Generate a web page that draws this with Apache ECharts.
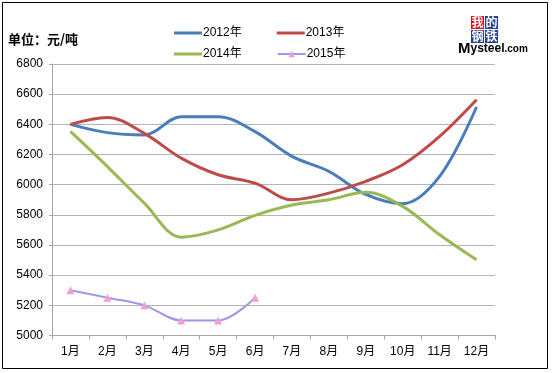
<!DOCTYPE html>
<html><head><meta charset="utf-8">
<script src="https://cdn.jsdelivr.net/npm/echarts@6/dist/echarts.min.js"></script>
<style>html,body{margin:0;padding:0;background:#fff}#c{width:555px;height:373px}</style>
</head><body><div id="c"></div>
<script>
var months = ['1月','2月','3月','4月','5月','6月','7月','8月','9月','10月','11月','12月'];
var s2012 = [6400, 6345, 6330, 6450, 6450, 6352, 6188, 6088, 5935, 5874, 6055, 6515];
var s2013 = [6400, 6446, 6340, 6176, 6066, 6010, 5900, 5944, 6022, 6132, 6320, 6563];
var s2014 = [6353, 6120, 5878, 5652, 5700, 5796, 5865, 5900, 5949, 5856, 5668, 5502];
var s2015 = [5300, 5250, 5200, 5100, 5100, 5250];
var names = ['2012年','2013年','2014年','2015年'];
var yTicks = {min: 5000, max: 6800, interval: 200};

var chart = echarts.init(document.getElementById('c'), null, {renderer: 'canvas'});
var font = '"Liberation Sans","Noto Sans CJK SC",sans-serif';
function lineSeries(name, data, color) {
  return {name: name, type: 'line', data: data, smooth: 0.35, symbol: 'none',
    lineStyle: {color: color, width: 3}, itemStyle: {color: color}};
}
var barIcon = 'path://M0,0h0.01v0.01h-0.01zM0,2.5h28v3h-28zM27.99,7.99h0.01v0.01h-0.01z';
var legendText = {fontSize: 12, color: '#000', fontFamily: font, padding: [0,0,0,-4]};
chart.setOption({
  animation: false,
  textStyle: {fontFamily: font},
  grid: {left: 52, right: 60, top: 64, bottom: 37.5},
  legend: [
    {top: 22, left: 169, itemWidth: 28, itemHeight: 8, itemGap: 35,
     textStyle: legendText, data: [{name: names[0], icon: barIcon}, {name: names[1], icon: barIcon}]},
    {top: 43, left: 169, itemWidth: 28, itemHeight: 8, itemGap: 35,
     textStyle: legendText, data: [{name: names[2], icon: barIcon}, names[3]]}
  ],
  xAxis: {type: 'category', data: months, boundaryGap: true,
    axisLine: {lineStyle: {color: '#a6a6a6', width: 1}},
    axisTick: {show: true, length: 4, lineStyle: {color: '#a6a6a6'}},
    axisLabel: {color: '#000', fontSize: 12, margin: 10}},
  yAxis: {type: 'value', min: yTicks.min, max: yTicks.max, interval: yTicks.interval,
    axisLine: {show: true, lineStyle: {color: '#a6a6a6', width: 1}},
    axisTick: {show: true, length: 3, lineStyle: {color: '#a6a6a6'}},
    axisLabel: {color: '#000', fontSize: 12, margin: 9, formatter: function (v) { return String(v); }},
    splitLine: {lineStyle: {color: '#b4b4b4', width: 1}}},
  series: [
    lineSeries(names[0], s2012, '#4a7ebb'),
    lineSeries(names[1], s2013, '#be4b48'),
    lineSeries(names[2], s2014, '#98b954'),
    {name: names[3], type: 'line', data: s2015, smooth: 0.35, symbol: 'triangle', symbolSize: 8,
     lineStyle: {color: '#9a9ae6', width: 2}, itemStyle: {color: '#f29fd6'}}
  ],
  graphic: [
    {type: 'rect', shape: {x: 2.5, y: 2.5, width: 545, height: 366}, style: {fill: 'none', stroke: '#000', lineWidth: 1}, silent: true},
    {type: 'text', left: 8, top: 33, style: {text: '单位：元/吨', font: 'bold 13px "Noto Sans CJK SC",sans-serif', fill: '#000'}},
    {type: 'rect', shape: {x: 471, y: 16, width: 13, height: 13}, style: {fill: '#d7141a'}},
    {type: 'rect', shape: {x: 485, y: 16, width: 13, height: 13}, style: {fill: '#24418f'}},
    {type: 'rect', shape: {x: 471, y: 30, width: 13, height: 13}, style: {fill: '#24418f'}},
    {type: 'rect', shape: {x: 485, y: 30, width: 13, height: 13}, style: {fill: '#24418f'}},
    {type: 'text', x: 477.5, y: 22.5, style: {text: '我', font: 'bold 12px "Noto Sans CJK SC"', fill: '#fff', align: 'center', verticalAlign: 'middle'}},
    {type: 'text', x: 491.5, y: 22.5, style: {text: '的', font: 'bold 12px "Noto Sans CJK SC"', fill: '#fff', align: 'center', verticalAlign: 'middle'}},
    {type: 'text', x: 477.5, y: 36.5, style: {text: '钢', font: 'bold 12px "Noto Sans CJK SC"', fill: '#fff', align: 'center', verticalAlign: 'middle'}},
    {type: 'text', x: 491.5, y: 36.5, style: {text: '铁', font: 'bold 12px "Noto Sans CJK SC"', fill: '#fff', align: 'center', verticalAlign: 'middle'}},
    {type: 'text', x: 458, y: 49, style: {
      text: '{a|M}{b|ysteel}{c|.com}', verticalAlign: 'middle',
      rich: {a: {font: 'bold 15px "Liberation Sans"', fill: '#000'},
             b: {font: 'bold 12px "Liberation Sans"', fill: '#000'},
             c: {font: 'bold 10px "Liberation Sans"', fill: '#000'}}}}
  ]
});
</script></body></html>
